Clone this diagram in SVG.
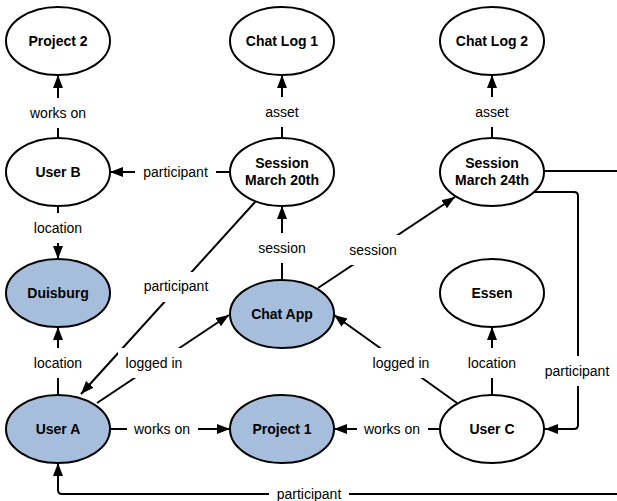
<svg xmlns="http://www.w3.org/2000/svg" width="617" height="501" viewBox="0 0 617 501">
<defs>
<marker id="arr" markerUnits="userSpaceOnUse" markerWidth="14" markerHeight="11" refX="13" refY="5" orient="auto">
<path d="M0,0 L13,5 L0,10 z" fill="#000"/>
</marker>
<style>
.n ellipse{fill:#fff;stroke:#000;stroke-width:2}
.n.b ellipse{fill:#a6bddb}
.n text{font-family:"Liberation Sans",Arial,sans-serif;font-size:14px;font-weight:bold;text-anchor:middle;fill:#000}
.e line,.e path{stroke:#000;stroke-width:2;fill:none;marker-end:url(#arr)}
.l rect{fill:#fff}
.l text{font-family:"Liberation Sans",Arial,sans-serif;font-size:14px;text-anchor:middle;fill:#000}
</style>
</defs>
<rect width="617" height="501" fill="#fff"/>
<g id="connectors" class="e">
<line x1="58" y1="138" x2="58" y2="75"/>
<line x1="282" y1="138" x2="282" y2="75"/>
<line x1="492" y1="138" x2="492" y2="75"/>
<line x1="230" y1="172" x2="110" y2="172"/>
<line x1="58" y1="206" x2="58" y2="259"/>
<line x1="58" y1="395" x2="58" y2="327"/>
<line x1="256" y1="201" x2="81" y2="394"/>
<line x1="97" y1="403" x2="229" y2="315"/>
<line x1="282" y1="280" x2="282" y2="206"/>
<line x1="318" y1="288" x2="455" y2="197"/>
<line x1="457" y1="403" x2="334" y2="315"/>
<line x1="492" y1="395" x2="492" y2="327"/>
<line x1="440" y1="429" x2="334" y2="429"/>
<line x1="110" y1="429" x2="230" y2="429"/>
<path d="M533,192 H574 Q578,192 578,196 V425 Q578,429 574,429 H545"/>
<path d="M544,171 H625 V494 H62 Q58,494 58,490 V463"/>
</g>
<g id="labels" class="l">
<rect x="27" y="98" width="62" height="30"/><text x="58" y="118">works on</text>
<rect x="263" y="97" width="38" height="30"/><text x="282" y="117">asset</text>
<rect x="473" y="97" width="38" height="30"/><text x="492" y="117">asset</text>
<rect x="135" y="157" width="81" height="30"/><text x="175.5" y="177">participant</text>
<rect x="27" y="213" width="62" height="30"/><text x="58" y="233">location</text>
<rect x="27" y="348" width="62" height="30"/><text x="58" y="368">location</text>
<rect x="135" y="272" width="82" height="30"/><text x="176" y="291">participant</text>
<rect x="118" y="348" width="72" height="30"/><text x="154" y="368">logged in</text>
<rect x="254" y="233" width="56" height="30"/><text x="282" y="253">session</text>
<rect x="345" y="235" width="56" height="30"/><text x="373" y="255">session</text>
<rect x="365" y="348" width="72" height="30"/><text x="401" y="368">logged in</text>
<rect x="461" y="348" width="62" height="30"/><text x="492" y="368">location</text>
<rect x="357" y="414" width="71" height="30"/><text x="392" y="434">works on</text>
<rect x="127" y="414" width="71" height="30"/><text x="162" y="434">works on</text>
<rect x="537" y="356" width="80" height="30"/><text x="577" y="376">participant</text>
<rect x="269" y="479" width="80" height="30"/><text x="309" y="499">participant</text>
</g>
<g id="project2" class="n"><ellipse cx="58" cy="41" rx="52" ry="34"/><text x="58" y="46">Project 2</text></g>
<g id="chatlog1" class="n"><ellipse cx="282" cy="41" rx="52" ry="34"/><text x="282" y="46">Chat Log 1</text></g>
<g id="chatlog2" class="n"><ellipse cx="492" cy="41" rx="52" ry="34"/><text x="492" y="46">Chat Log 2</text></g>
<g id="userb" class="n"><ellipse cx="58" cy="172" rx="52" ry="34"/><text x="58" y="177">User B</text></g>
<g id="session20" class="n"><ellipse cx="282" cy="172" rx="52" ry="34"/><text x="282" y="168">Session</text><text x="282" y="185">March 20th</text></g>
<g id="session24" class="n"><ellipse cx="492" cy="172" rx="52" ry="34"/><text x="492" y="168">Session</text><text x="492" y="185">March 24th</text></g>
<g id="duisburg" class="n b"><ellipse cx="58" cy="293" rx="52" ry="34"/><text x="58" y="298">Duisburg</text></g>
<g id="chatapp" class="n b"><ellipse cx="282" cy="314" rx="52" ry="34"/><text x="282" y="319">Chat App</text></g>
<g id="essen" class="n"><ellipse cx="492" cy="293" rx="52" ry="34"/><text x="492" y="298">Essen</text></g>
<g id="usera" class="n b"><ellipse cx="58" cy="429" rx="52" ry="34"/><text x="58" y="434">User A</text></g>
<g id="project1" class="n b"><ellipse cx="282" cy="429" rx="52" ry="34"/><text x="282" y="434">Project 1</text></g>
<g id="userc" class="n"><ellipse cx="492" cy="429" rx="52" ry="34"/><text x="492" y="434">User C</text></g>
</svg>
